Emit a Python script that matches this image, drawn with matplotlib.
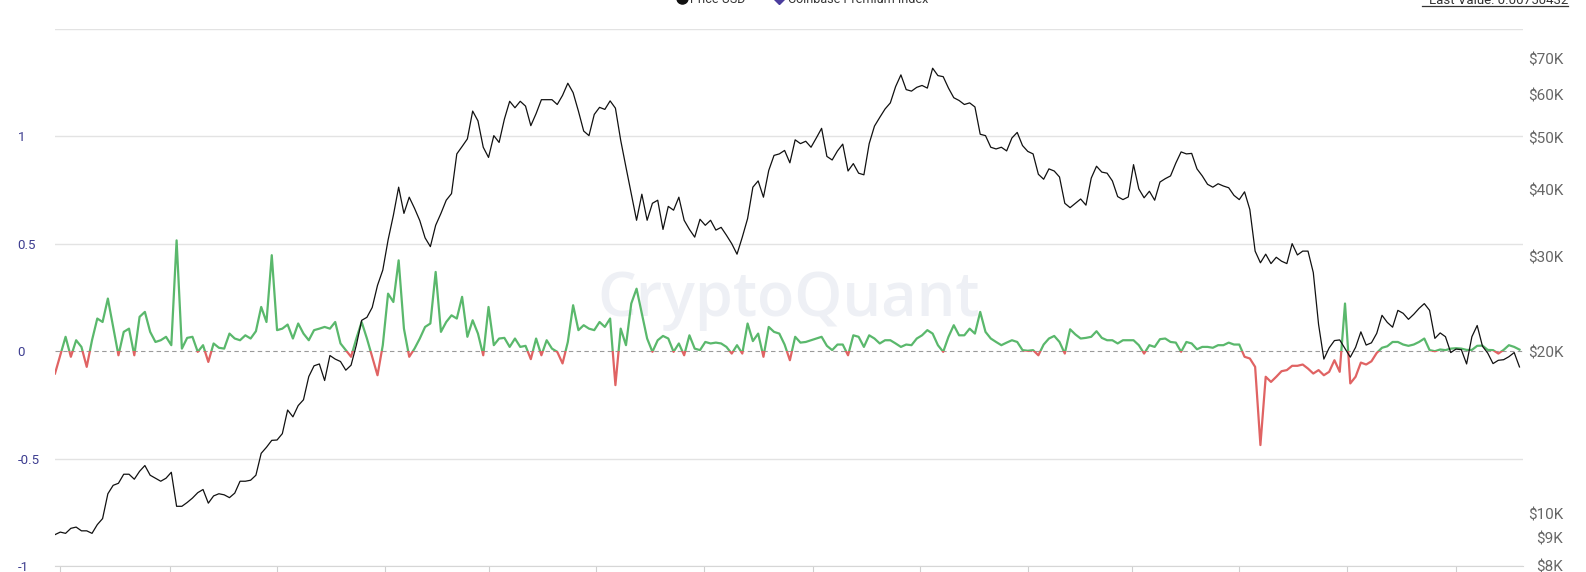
import numpy as np
import pandas as pd
import matplotlib
matplotlib.use('Agg')
import matplotlib.pyplot as plt
import matplotlib.transforms as mtransforms
from matplotlib.patches import Rectangle
from matplotlib.lines import Line2D
from matplotlib.ticker import NullLocator

# Valeurs, un point tous les 3 jours
start = '2020-06-28'
step_days = 3

price_k = [
    9.15, 9.25, 9.2, 9.4, 9.45, 9.3, 9.3, 9.2, 9.55, 9.8, 10.9, 11.3, 11.4, 11.85, 11.85, 11.6,
    12.0, 12.3, 11.8, 11.65, 11.5, 11.65, 11.95, 10.33, 10.33, 10.5, 10.7, 10.95, 11.1, 10.47,
    10.8, 10.9, 10.85, 10.72, 10.93, 11.5, 11.5, 11.55, 11.8, 12.96, 13.3, 13.7, 13.72, 14.1,
    15.6, 15.15,
    15.9, 16.3, 18.0, 18.85, 19.0, 17.7, 19.7, 19.4, 19.2, 18.5, 18.9, 20.6, 22.9, 23.2, 24.2,
    26.6, 28.4, 32.3, 35.9, 40.5, 36.2, 38.8, 37.0, 35.1, 32.6, 31.4, 34.4, 36.2, 38.3, 39.4,
    46.7, 48.2, 49.8, 56.1, 53.8, 48.05, 46.0, 50.5, 49.05, 54.2, 58.5, 56.9, 58.5, 57.3, 52.7,
    55.5, 58.9, 58.9, 58.9, 57.7, 60.0, 63.2, 60.7, 56.1, 51.5, 50.5, 55.3, 57.0, 56.5, 58.6,
    56.8, 49.5, 44.1, 39.4, 35.15, 39.3, 35.15, 37.8, 38.3, 33.8, 37.3, 36.7, 38.8, 35.15, 33.8,
    32.7, 35.3, 34.4, 35.15, 33.7, 34.1, 32.97, 31.8, 30.4, 32.7, 35.4, 40.5, 41.6, 38.8, 43.5,
    46.4,
    46.7, 47.4, 44.95, 49.6, 48.8, 49.3, 48.05, 50.0, 52.1, 46.2, 45.5, 47.3, 48.7, 43.4, 44.8,
    43.0, 42.7, 48.8, 52.6, 54.6, 56.6, 58.1, 62.3, 65.5, 61.5, 61.1, 62.1, 62.6, 61.9, 67.4,
    65.3, 65.0, 61.9, 59.4, 58.7, 57.7, 58.1, 57.1, 50.8, 50.5, 48.05, 47.7, 48.05, 47.3, 50.0,
    51.2,
    48.4, 47.2, 46.7, 42.8, 41.9, 43.8, 43.4, 42.3, 37.8, 37.1, 37.8, 38.5, 37.5, 42.1, 44.3,
    43.2, 43.0, 41.6, 38.9, 38.4, 38.84, 44.6, 40.2, 38.7, 39.8, 38.3, 41.4, 42.0, 42.5, 44.9,
    47.1, 46.7, 46.8, 43.8, 42.5, 41.0, 40.5, 41.1, 40.7, 40.4, 39.1, 38.4, 39.7, 36.8, 30.8,
    29.3, 30.4, 29.2, 30.0, 29.5, 29.2, 31.8, 30.3, 30.8, 30.8, 28.1, 22.5, 19.4, 20.35, 21.0,
    21.06, 20.3, 19.56, 20.4, 21.8, 20.6, 20.8, 21.66, 23.4, 22.7, 22.24, 23.9, 23.6, 23.0, 23.5,
    24.1, 24.6, 23.9, 21.2, 21.7, 21.35, 19.95, 20.25, 20.2, 19.0, 21.35, 22.4, 20.5, 19.9, 19.03,
    19.3, 19.35, 19.6, 19.95, 18.76,
]

premium = [
    -0.104, -0.019, 0.067, -0.026, 0.051, 0.02, -0.073, 0.051, 0.152, 0.136, 0.245, 0.113, -0.019,
    0.09, 0.105, -0.019, 0.16, 0.183, 0.09, 0.043, 0.051, 0.067, 0.028, 0.516, 0.012, 0.062,
    0.067, -0.003, 0.028, -0.05, 0.036, 0.016, 0.012, 0.082, 0.059, 0.051, 0.074, 0.059, 0.093,
    0.206, 0.136, 0.447, 0.098, 0.105, 0.124, 0.059,
    0.129, 0.082, 0.051, 0.098, 0.105, 0.113, 0.105, 0.136, 0.036, 0.005, -0.026, 0.059, 0.136,
    0.059, -0.026, -0.112, 0.028, 0.268, 0.229, 0.423, 0.105, -0.026, 0.012, 0.059, 0.113, 0.129,
    0.369, 0.09, 0.136, 0.167, 0.152, 0.253, 0.067, 0.144, 0.082, -0.019, 0.206, 0.028, 0.059,
    0.062, 0.02, 0.059, 0.02, 0.025, -0.037,
    0.059, -0.019, 0.051, 0.012, -0.003, -0.057, 0.043, 0.214, 0.098, 0.121, 0.105, 0.098, 0.136,
    0.113, 0.152, -0.158, 0.105, 0.028, 0.222, 0.291, 0.175, 0.059, -0.003, 0.051, 0.071, 0.059,
    -0.003, 0.036, -0.019, 0.074, 0.012, 0.005, 0.043, 0.036, 0.04, 0.036, 0.02, -0.011, 0.028,
    -0.011, 0.129, 0.047, 0.082, -0.026, 0.113, 0.09,
    0.082, 0.031, -0.042, 0.067, 0.04, 0.043, 0.051, 0.059, 0.067, 0.025, 0.005, 0.031, 0.031,
    -0.019, 0.074, 0.067, 0.02, 0.074, 0.059, 0.036, 0.051, 0.051, 0.036, 0.02, 0.031, 0.028,
    0.059, 0.074, 0.098, 0.082, 0.028, -0.003, 0.067, 0.121, 0.074, 0.074, 0.105, 0.082, 0.183,
    0.09, 0.059, 0.043, 0.028, 0.04, 0.051, 0.043,
    0.005, 0.002, 0.005, -0.019, 0.031, 0.059, 0.071, 0.043, -0.011, 0.102, 0.078, 0.059, 0.062,
    0.067, 0.093, 0.062, 0.051, 0.051, 0.036, 0.051, 0.051, 0.051, 0.028, -0.011, 0.028, 0.02,
    0.056, 0.059, 0.043, 0.04, -0.003, 0.043, 0.036, 0.009, 0.02, 0.02, 0.016, 0.028, 0.028,
    0.04, 0.031, 0.031, -0.026, -0.034, -0.073,
    -0.437, -0.119, -0.143, -0.119, -0.093, -0.088, -0.068, -0.068, -0.062, -0.081, -0.104,
    -0.088, -0.112, -0.096, -0.042, -0.096, 0.222, -0.15, -0.119, -0.053, -0.062, -0.047, -0.008,
    0.016, 0.023, 0.043, 0.043, 0.031, 0.025, 0.031, 0.043, 0.059, 0.005, 0.0, 0.008, 0.005,
    0.012, 0.014, 0.012, 0.006, 0.006, 0.025, 0.026, 0.006, 0.005, -0.011, 0.006, 0.028, 0.02,
    0.0075,
]

left_ticks = [-1, -0.5, 0, 0.5, 1, 1.5]
left_labels = ['-1', '-0.5', '0', '0.5', '1', '']
right_ticks = [8, 9, 10, 20, 30, 40, 50, 60, 70]
right_labels = ['$8K', '$9K', '$10K', '$20K', '$30K', '$40K', '$50K', '$60K', '$70K']
last_value = 0.00750432

dates = pd.date_range(start, periods=len(price_k), freq=f'{step_days}D')
x_end = pd.Timestamp(start) + pd.Timedelta(days=833)
month_ticks = pd.date_range('2020-07-01', '2022-09-01', freq='2MS')

GREEN = '#5ab86c'
RED = '#e06363'
GRID = '#e3e3e3'

plt.rcParams['font.family'] = ['Roboto', 'DejaVu Sans']

fig = plt.figure(figsize=(15.86, 5.72), dpi=100)
ax = fig.add_axes([55 / 1586, 6 / 572, 1468 / 1586, 537 / 572])
ax2 = ax.twinx()

# axe gauche : Coinbase Premium Index
ax.set_xlim(dates[0], x_end)
ax.set_ylim(-1, 1.5)
for v in left_ticks:
    if v == 0:
        ax.axhline(0, color='#9a9a9a', lw=0.8, ls=(0, (4, 3)), zorder=1)
    else:
        ax.axhline(v, color=GRID, lw=1.0, zorder=1)

blend = mtransforms.blended_transform_factory(ax.transAxes, ax.transData)
l_pos, = ax.plot(dates, premium, color=GREEN, lw=1.6, zorder=3)
l_neg, = ax.plot(dates, premium, color=RED, lw=1.6, zorder=3)
l_pos.set_clip_path(Rectangle((0, 0), 1, 2, transform=blend))
l_neg.set_clip_path(Rectangle((0, -2), 1, 2, transform=blend))

ax.text(0.5, 0.495, 'CryptoQuant', transform=ax.transAxes, fontsize=44,
        family='Open Sans', weight='semibold', color='#eef0f5', ha='center', va='center',
        zorder=0)

ax.set_yticks(left_ticks)
ax.set_yticklabels(left_labels)
ax.tick_params(axis='y', length=0, pad=27, labelsize=9.5, labelcolor='#3d3d90')
for lbl in ax.get_yticklabels():
    lbl.set_horizontalalignment('left')

ax.set_xticks(month_ticks)
ax.set_xticklabels([''] * len(month_ticks))
ax.tick_params(axis='x', direction='out', length=6, width=0.8, color='#cfcfcf')

for s in ['top', 'left', 'right']:
    ax.spines[s].set_visible(False)
    ax2.spines[s].set_visible(False)
ax.spines['bottom'].set_color('#d6d6d6')
ax2.spines['bottom'].set_visible(False)

# axe droit : prix BTC (log)
ax2.set_yscale('log')
ax2.plot(dates, price_k, color='#111111', lw=0.9, zorder=4)
ax2.set_ylim(8.077, 79.717)
ax2.set_yticks(right_ticks)
ax2.set_yticklabels(right_labels)
ax2.yaxis.set_minor_locator(NullLocator())
ax2.tick_params(axis='y', length=0, pad=29, labelsize=11, labelcolor='#666666')
for lbl in ax2.get_yticklabels():
    lbl.set_horizontalalignment('right')

# legende coupee en haut
def fy(px):
    return (572 - px) / 572

fig.add_artist(Line2D([682 / 1586], [fy(-2)], marker='o', markersize=8, color='#111111',
                      transform=fig.transFigure))
fig.text(690 / 1586, fy(3), 'Price USD', fontsize=9, color='#333333', va='baseline')
fig.add_artist(Line2D([779 / 1586], [fy(-2)], marker='D', markersize=6, color='#4b3d9e',
                      transform=fig.transFigure))
fig.text(788 / 1586, fy(3), 'Coinbase Premium Index', fontsize=9, color='#333333', va='baseline')

fig.text(1568 / 1586, fy(4), f'Last Value: {last_value}', fontsize=9.5, color='#333333',
         ha='right', va='baseline')
fig.add_artist(Line2D([1422 / 1586, 1568 / 1586], [fy(6), fy(6)], lw=0.9, color='#333333',
                      transform=fig.transFigure))

fig.savefig('out.png', dpi=100)
